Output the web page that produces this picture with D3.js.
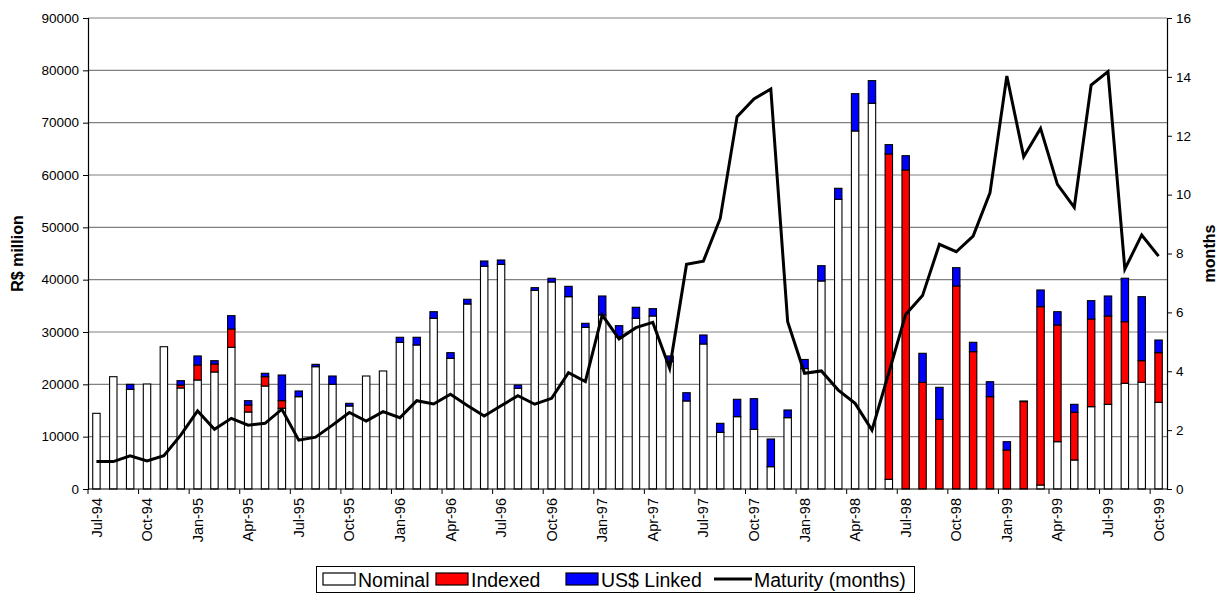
<!DOCTYPE html>
<html><head><meta charset="utf-8">
<script src="https://cdn.jsdelivr.net/npm/d3@7"></script>
<style>body{margin:0;background:#fff;font-family:"Liberation Sans",Arial,sans-serif}</style>
</head><body><svg id="c" width="1226" height="594"></svg>
<script>
const months = ["Jul-94","Aug-94","Sep-94","Oct-94","Nov-94","Dec-94","Jan-95","Feb-95","Mar-95","Apr-95","May-95","Jun-95","Jul-95","Aug-95","Sep-95","Oct-95","Nov-95","Dec-95","Jan-96","Feb-96","Mar-96","Apr-96","May-96","Jun-96","Jul-96","Aug-96","Sep-96","Oct-96","Nov-96","Dec-96","Jan-97","Feb-97","Mar-97","Apr-97","May-97","Jun-97","Jul-97","Aug-97","Sep-97","Oct-97","Nov-97","Dec-97","Jan-98","Feb-98","Mar-98","Apr-98","May-98","Jun-98","Jul-98","Aug-98","Sep-98","Oct-98","Nov-98","Dec-98","Jan-99","Feb-99","Mar-99","Apr-99","May-99","Jun-99","Jul-99","Aug-99","Sep-99","Oct-99"];
const nominal = [14460,21460,19050,20060,27190,19300,20830,22360,27080,14710,19680,15420,17640,23370,20000,15860,21590,22550,28030,27520,32620,24970,35350,42560,42930,19240,37960,39560,36750,30900,33250,29100,32620,33060,24330,16820,27710,10830,13820,11400,4260,13630,23000,39750,55360,68410,73700,1850,0,0,0,0,0,0,0,0,760,9040,5540,15730,16180,20200,20390,16560];
const indexed = [0,0,0,0,0,570,2870,1530,3500,1340,1780,1460,0,0,0,0,0,0,0,0,0,0,0,0,0,0,0,0,0,0,0,0,0,0,0,0,0,0,0,0,0,0,0,0,0,0,0,62170,60960,20390,13320,38790,26240,17640,7450,16700,34080,22300,9110,16760,16880,11770,4130,9490];
const usLinked = [0,0,950,0,0,830,1720,630,2540,830,650,4900,1090,450,1590,510,0,0,960,1470,1260,1080,900,1010,830,630,510,700,1980,760,3630,2110,2100,1400,1090,1580,1720,1720,3320,5860,5290,1470,1750,2920,2100,7130,4330,1780,2730,5540,6110,3500,1790,2860,1590,120,3190,2540,1530,3500,3820,8300,12230,2420];
const maturity = [0.93,0.93,1.13,0.95,1.13,1.83,2.65,2.03,2.40,2.17,2.23,2.71,1.66,1.76,2.17,2.60,2.31,2.63,2.42,3.00,2.89,3.22,2.84,2.48,2.83,3.17,2.88,3.08,3.95,3.65,5.91,5.10,5.48,5.66,4.10,7.63,7.74,9.19,12.65,13.25,13.59,5.68,3.93,4.01,3.36,2.91,2.00,3.95,5.93,6.57,8.31,8.06,8.59,10.06,14.03,11.29,12.25,10.35,9.57,13.72,14.18,7.47,8.63,7.91];
const leftTicks = [0,10000,20000,30000,40000,50000,60000,70000,80000,90000];
const rightTicks = [0,2,4,6,8,10,12,14,16];
const seriesNames = ["Nominal","Indexed","US$ Linked"];
const seriesColors = ["#ffffff","#ff0000","#0000ff"];
const lineName = "Maturity (months)";

const svg = d3.select("#c");
const X0 = 88, X1 = 1167, Y0 = 18, Y1 = 489;
const x = d3.scaleBand().domain(months).range([X0, X1]).padding(0);
const y = d3.scaleLinear().domain([0, 90000]).range([Y1, Y0]);
const y2 = d3.scaleLinear().domain([0, 16]).range([Y1, Y0]);
const font = '"Liberation Sans", Arial, sans-serif';

// gridlines
svg.append("g").selectAll("line").data(leftTicks.filter(d => d > 0)).join("line")
  .attr("x1", X0).attr("x2", X1).attr("y1", d => y(d)).attr("y2", d => y(d))
  .attr("stroke", "#808080").attr("stroke-width", 1.2);

// stacked bars
const rows = months.map((m, i) => ({m, Nominal: nominal[i], Indexed: indexed[i], "US$ Linked": usLinked[i]}));
const stack = d3.stack().keys(seriesNames)(rows);
const bw = x.bandwidth() * 0.44;
stack.forEach((layer, k) => {
  svg.append("g").selectAll("rect").data(layer.filter(d => d[1] - d[0] > 0)).join("rect")
    .attr("x", d => x(d.data.m) + (x.bandwidth() - bw) / 2)
    .attr("width", bw)
    .attr("y", d => y(d[1]))
    .attr("height", d => y(d[0]) - y(d[1]))
    .attr("fill", seriesColors[k]).attr("stroke", "#000").attr("stroke-width", 1.1);
});

// axes
const gl = svg.append("g").attr("transform", `translate(${X0},0)`)
  .call(d3.axisLeft(y).tickValues(leftTicks).tickFormat(d3.format("d")).tickSize(5).tickPadding(4));
const gr = svg.append("g").attr("transform", `translate(${X1},0)`)
  .call(d3.axisRight(y2).tickValues(rightTicks).tickSize(5).tickPadding(4));
const gb = svg.append("g").attr("transform", `translate(0,${Y1})`)
  .call(d3.axisBottom(x).tickValues(months.filter((m, i) => i % 3 === 0)).tickSize(0).tickPadding(8));
[gl, gr, gb].forEach(g => {
  g.selectAll("path.domain").attr("stroke", "#000").attr("stroke-width", 1.2);
  g.selectAll("line").attr("stroke", "#000");
  g.selectAll("text").attr("font-family", font).attr("font-size", 13.5).attr("fill", "#000");
});
gb.selectAll("path.domain").remove();
svg.append("line").attr("x1", X0).attr("x2", X1).attr("y1", Y1).attr("y2", Y1).attr("stroke", "#000").attr("stroke-width", 1.2);
gb.selectAll("text").attr("transform", "rotate(-90)").attr("text-anchor", "end")
  .attr("x", -9).attr("y", 0).attr("dy", "0.35em").attr("font-size", 14.5);
// category boundary ticks every 3 months
svg.append("g").selectAll("line").data(months.filter((m, i) => i % 3 === 0)).join("line")
  .attr("x1", d => x(d)).attr("x2", d => x(d)).attr("y1", Y1).attr("y2", Y1 + 5)
  .attr("stroke", "#000");

// maturity line
svg.append("path").datum(maturity)
  .attr("d", d3.line().x((d, i) => x(months[i]) + x.bandwidth() / 2).y(d => y2(d)))
  .attr("fill", "none").attr("stroke", "#000").attr("stroke-width", 3).attr("stroke-linejoin", "miter");

// axis titles
svg.append("text").attr("transform", `translate(23,${(Y0 + Y1) / 2}) rotate(-90)`)
  .attr("text-anchor", "middle").attr("font-family", font).attr("font-weight", "bold").attr("font-size", 16)
  .text("R$ million");
svg.append("text").attr("transform", `translate(1215,${(Y0 + Y1) / 2}) rotate(-90)`)
  .attr("text-anchor", "middle").attr("font-family", font).attr("font-weight", "bold").attr("font-size", 16)
  .text("months");

// legend
const lg = svg.append("g");
lg.append("rect").attr("x", 316.5).attr("y", 566.5).attr("width", 598).attr("height", 26)
  .attr("fill", "#fff").attr("stroke", "#000").attr("stroke-width", 1);
const items = [
  {name: seriesNames[0], color: seriesColors[0], x: 323},
  {name: seriesNames[1], color: seriesColors[1], x: 436},
  {name: seriesNames[2], color: seriesColors[2], x: 566},
  {name: lineName, color: null, x: 714}
];
items.forEach(it => {
  if (it.color) {
    lg.append("rect").attr("x", it.x).attr("y", 573).attr("width", 32).attr("height", 12)
      .attr("fill", it.color).attr("stroke", "#000").attr("stroke-width", 1.2);
  } else {
    lg.append("line").attr("x1", it.x).attr("x2", it.x + 38).attr("y1", 579).attr("y2", 579)
      .attr("stroke", "#000").attr("stroke-width", 3);
  }
  lg.append("text").attr("x", it.x + (it.color ? 35 : 40)).attr("y", 580).attr("dy", "0.35em")
    .attr("font-family", font).attr("font-size", 19.5).text(it.name);
});
</script></body></html>
